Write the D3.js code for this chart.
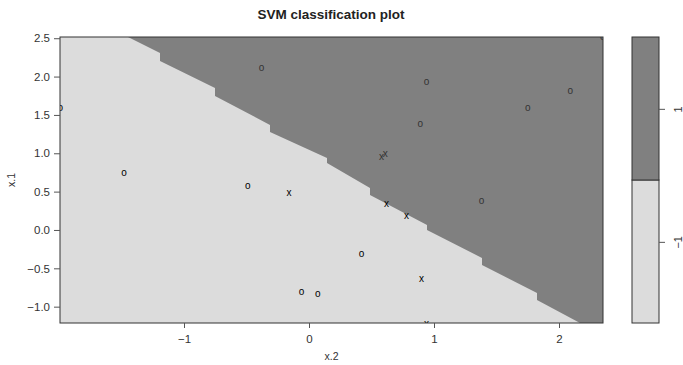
<!DOCTYPE html>
<html>
<head>
<meta charset="utf-8">
<script src="https://cdn.jsdelivr.net/npm/d3@7"></script>
<style>
  html, body { margin: 0; padding: 0; background: #fff; }
  svg { display: block; }
  text { font-family: "Liberation Sans", Arial, Helvetica, sans-serif; }
</style>
</head>
<body>
<svg id="chart" width="683" height="365"></svg>
<script>
// ---- data ----
const xTicks = [-1, 0, 1, 2];
const yTicks = [-1.0, -0.5, 0.0, 0.5, 1.0, 1.5, 2.0, 2.5];
const xDomain = [-1.992, 2.352];
const yDomain = [-1.213, 2.516];

// observations: x.2 (horizontal), x.1 (vertical), symbol
const pointX2 = [-1.99, -1.48, -0.38, -0.49, -0.16, 0.94, 0.89, 0.58, 0.61, 0.62, 0.78, 0.42, -0.06, 0.07, 0.90, 0.94, 1.38, 1.75, 2.09, 2.35];
const pointX1 = [1.59, 0.74, 2.11, 0.57, 0.48, 1.93, 1.38, 0.95, 0.99, 0.34, 0.18, -0.31, -0.81, -0.83, -0.64, -1.23, 0.38, 1.59, 1.81, 2.52];
const pointSym = ["o", "o", "o", "o", "x", "o", "o", "x", "x", "x", "x", "o", "o", "o", "x", "x", "o", "o", "o", "o"];
const pointCls = [-1, -1, 1, -1, -1, 1, 1, 1, 1, -1, -1, -1, -1, -1, -1, -1, 1, 1, 1, 1];

// decision boundary (staircase from the prediction grid), in data coords
const boundaryX2 = [-1.448, -1.192, -1.192, -0.752, -0.752, -0.312, -0.312, 0.144, 0.144, 0.488, 0.488, 0.944, 0.944, 1.384, 1.384, 1.824, 1.824, 2.168];
const boundaryX1 = [2.516, 2.308, 2.203, 1.851, 1.747, 1.369, 1.278, 0.939, 0.874, 0.548, 0.456, 0.065, 0.0, -0.365, -0.456, -0.821, -0.913, -1.213];

// key (colour bar)
const keyLevels = [-2.22, -0.07, 2.08];
const keyTicks = [-1, 1];
const classColors = {"-1": "#dcdcdc", "1": "#808080"};

// ---- layout ----
const svg = d3.select("#chart");
const L = 60, R = 603, T = 37, B = 323;

const x = d3.scaleLinear().domain(xDomain).range([L, R]);
const y = d3.scaleLinear().domain(yDomain).range([B, T]);

svg.append("defs").append("clipPath").attr("id", "plotclip")
  .append("rect").attr("x", L).attr("y", T).attr("width", R - L).attr("height", B - T);

const plot = svg.append("g").attr("clip-path", "url(#plotclip)");

plot.append("rect")
  .attr("x", L).attr("y", T).attr("width", R - L).attr("height", B - T)
  .attr("fill", classColors["-1"]);

const boundary = boundaryX2.map((v, i) => [v, boundaryX1[i]]);
const darkPoly = boundary.concat([[xDomain[1], yDomain[0]], [xDomain[1], yDomain[1]]]);
plot.append("path")
  .attr("d", d3.line().x(d => x(d[0])).y(d => y(d[1]))(darkPoly) + "Z")
  .attr("fill", classColors["1"]);

plot.selectAll("text.pt")
  .data(pointX2.map((v, i) => ({x2: v, x1: pointX1[i], s: pointSym[i], c: pointCls[i]})))
  .join("text")
  .attr("class", "pt")
  .attr("x", d => x(d.x2))
  .attr("y", d => y(d.x1))
  .attr("dy", "0.3em")
  .attr("text-anchor", "middle")
  .attr("font-size", 10)
  .attr("fill", d => d.c === 1 ? "#333" : "#000")
  .text(d => d.s);

// box
svg.append("rect")
  .attr("x", L).attr("y", T).attr("width", R - L).attr("height", B - T)
  .attr("fill", "none").attr("stroke", "#333").attr("stroke-width", 1);

// axes
const xAxis = svg.append("g").attr("transform", `translate(0,${B})`)
  .call(d3.axisBottom(x).tickValues(xTicks).tickFormat(d3.format("d")).tickSize(5).tickPadding(7));
const yAxis = svg.append("g").attr("transform", `translate(${L},0)`)
  .call(d3.axisLeft(y).tickValues(yTicks).tickFormat(d3.format(".1f")).tickSize(6).tickPadding(4));
[xAxis, yAxis].forEach(a => {
  a.select(".domain").remove();
  a.selectAll("line").attr("stroke", "#555");
  a.selectAll("text").attr("font-size", 11.5).attr("fill", "#333")
    .attr("font-family", "Liberation Sans, Arial, sans-serif");
});

// axis titles
svg.append("text").attr("x", (L + R) / 2).attr("y", 360)
  .attr("text-anchor", "middle").attr("font-size", 10.5).attr("fill", "#333").text("x.2");
svg.append("text").attr("transform", `translate(15,${(T + B) / 2}) rotate(-90)`)
  .attr("text-anchor", "middle").attr("font-size", 10.5).attr("fill", "#333").text("x.1");

// title
svg.append("text").attr("x", 331).attr("y", 19)
  .attr("text-anchor", "middle").attr("font-size", 13.5).attr("font-weight", "bold")
  .attr("fill", "#222").text("SVM classification plot");

// key
const kL = 632, kR = 659;
const ky = d3.scaleLinear().domain([keyLevels[0], keyLevels[2]]).range([B, T]);
const keyBands = [
  {lo: keyLevels[0], hi: keyLevels[1], c: classColors["-1"]},
  {lo: keyLevels[1], hi: keyLevels[2], c: classColors["1"]}
];
svg.selectAll("rect.key").data(keyBands).join("rect")
  .attr("class", "key")
  .attr("x", kL).attr("width", kR - kL)
  .attr("y", d => ky(d.hi)).attr("height", d => ky(d.lo) - ky(d.hi))
  .attr("fill", d => d.c).attr("stroke", "#333").attr("stroke-width", 1);

const keyAxis = svg.append("g").attr("transform", `translate(${kR},0)`)
  .call(d3.axisRight(ky).tickValues(keyTicks).tickFormat(d3.format("d")).tickSize(6).tickPadding(0));
keyAxis.select(".domain").remove();
keyAxis.selectAll("line").attr("stroke", "#555");
keyAxis.selectAll("text")
  .attr("font-size", 11).attr("fill", "#333")
  .attr("x", null).attr("dy", null)
  .attr("text-anchor", "middle")
  .attr("transform", "translate(23,0) rotate(-90)");
</script>
</body>
</html>
